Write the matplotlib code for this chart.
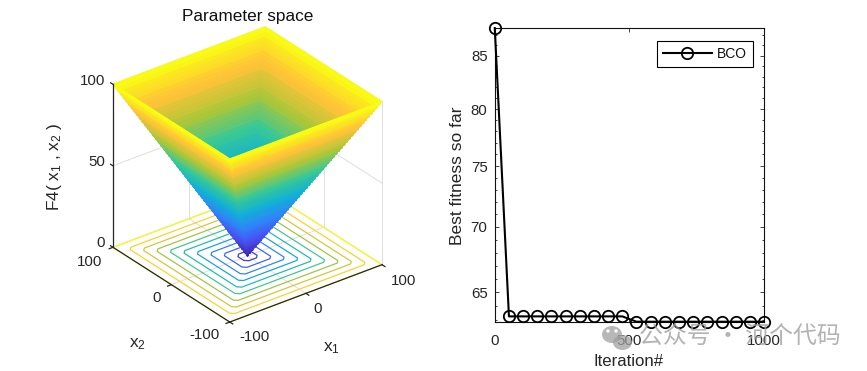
import numpy as np
import matplotlib
matplotlib.use('Agg')
import matplotlib.pyplot as plt
from matplotlib.colors import LinearSegmentedColormap
from matplotlib.patches import Ellipse
from matplotlib.ticker import FixedLocator, NullFormatter, FixedFormatter

plt.rcParams['font.family'] = ['Liberation Sans', 'Noto Sans CJK SC', 'DejaVu Sans']
plt.rcParams['mathtext.fontset'] = 'custom'
plt.rcParams['mathtext.rm'] = 'Liberation Sans'
plt.rcParams['mathtext.default'] = 'regular'

# ---- data -----------------------------------------------------------------
iterations = [1, 53.6, 106.2, 158.8, 211.4, 264, 316.6, 369.2, 421.7, 474.3,
              526.9, 579.5, 632.1, 684.7, 737.3, 789.9, 842.5, 895.1, 947.6, 1000]
best_fitness = [87.7, 63.25, 63.25, 63.25, 63.25, 63.25, 63.25, 63.25, 63.25, 63.25,
                62.87, 62.87, 62.87, 62.87, 62.87, 62.87, 62.87, 62.87, 62.87, 62.87]
contour_levels = [8.8, 18.8, 28.8, 38.8, 48.8, 58.8, 68.8, 78.8, 88.8]
rim_level = [99.9]
x_ticks_3d = [-100, 0, 100]
z_ticks_3d = [0, 50, 100]
y_major = [65, 70, 75, 80, 85]
y_minor = [63, 64, 66, 67, 68, 69, 71, 72, 73, 74, 76, 77, 78, 79, 81, 82, 83, 84, 86, 87]
x_ticks_2d = [0, 500, 1000]

# The surface is the function named on the axis, F4 = max(|x1|, |x2|),
# which the V-shaped square funnel in the reference shows.
x1 = np.arange(-100, 101, 2)
x2 = np.arange(-100, 101, 2)
X1, X2 = np.meshgrid(x1, x2)
F4 = np.maximum(np.abs(X1), np.abs(X2))
x1c = np.arange(-100, 101, 5)
C1, C2 = np.meshgrid(x1c, x1c)
F4c = np.maximum(np.abs(C1), np.abs(C2))

parula = LinearSegmentedColormap.from_list('parula', [
    (0.2422, 0.1504, 0.6603), (0.2810, 0.3228, 0.9579), (0.1786, 0.5289, 0.9682),
    (0.0689, 0.6948, 0.8394), (0.2161, 0.7843, 0.5923), (0.6720, 0.7793, 0.2227),
    (0.9970, 0.7659, 0.2199), (0.9769, 0.9839, 0.0805)], N=64)

W, H = 867, 371
INK = '#262626'
fig = plt.figure(figsize=(W / 100, H / 100), dpi=100, facecolor='white')


def ftxt(px, py, s, **kw):
    kw.setdefault('color', INK)
    kw.setdefault('ha', 'center')
    kw.setdefault('va', 'center')
    return fig.text(px / W, 1 - py / H, s, **kw)


# ---- left: 3-D surface ------------------------------------------------------
side = 400
ax3 = fig.add_axes([42.1 / W, -8.9 / H, side / W, side / H],
                   projection='3d', computed_zorder=False, proj_type='ortho')
ax3.view_init(elev=29.4, azim=-127.5)
ax3.set_box_aspect((1, 1, 0.975), zoom=0.80)
ax3.set_xlim(-100, 100, view_margin=0)
ax3.set_ylim(-100, 100, view_margin=0)
ax3.set_zlim(0, 100, view_margin=0)
ax3.set_xticks(x_ticks_3d)
ax3.set_yticks(x_ticks_3d)
ax3.set_zticks(z_ticks_3d)
ax3.set_axis_off()
ax3.patch.set_alpha(0)

GRID = '#dedede'
for v in x_ticks_3d:
    ax3.plot([v, v], [-100, 100], [0, 0], color=GRID, lw=0.7, zorder=1)
    ax3.plot([-100, 100], [v, v], [0, 0], color=GRID, lw=0.7, zorder=1)
    ax3.plot([v, v], [100, 100], [0, 100], color=GRID, lw=0.7, zorder=1)
    ax3.plot([100, 100], [v, v], [0, 100], color=GRID, lw=0.7, zorder=1)
for z in z_ticks_3d:
    ax3.plot([-100, 100], [100, 100], [z, z], color=GRID, lw=0.7, zorder=1)
    ax3.plot([100, 100], [-100, 100], [z, z], color=GRID, lw=0.7, zorder=1)

ax3.contour(C1, C2, F4c, levels=contour_levels, zdir='z', offset=0, cmap=parula,
            vmin=0, vmax=100, linewidths=0.9, zorder=2)
ax3.contour(X1, X2, F4, levels=rim_level, zdir='z', offset=0, cmap=parula,
            vmin=0, vmax=100, linewidths=0.9, zorder=2)
surf = ax3.plot_surface(X1, X2, F4, cmap=parula, vmin=0, vmax=100, rstride=1, cstride=1,
                        shade=False, linewidth=0.9, antialiased=True, zorder=3)
surf.set_edgecolor('face')

ax3.plot([-100, -100], [100, 100], [0, 100], color=INK, lw=0.9, zorder=4)
ax3.plot([-100, 100], [-100, -100], [0, 0], color=INK, lw=0.9, zorder=4)
ax3.plot([-100, -100], [-100, 100], [0, 0], color=INK, lw=0.9, zorder=4)
for v in x_ticks_3d:
    ax3.plot([v, v], [-100, -105], [0, 0], color=INK, lw=0.9, zorder=4)
    ax3.plot([-100, -105], [v, v], [0, 0], color=INK, lw=0.9, zorder=4)
for z in z_ticks_3d:
    ax3.plot([-100, -100], [100, 104], [z, z], color=INK, lw=0.9, zorder=4)

TICK = 10.8
ftxt(248, 16, 'Parameter space', fontsize=12.4, color='#111111')
ftxt(105, 81, '100', fontsize=TICK, ha='right')
ftxt(105, 162, '50', fontsize=TICK, ha='right')
ftxt(105, 243, '0', fontsize=TICK, ha='right')
ftxt(90, 262, '100', fontsize=TICK)
ftxt(157, 298, '0', fontsize=TICK)
ftxt(205, 335, '-100', fontsize=TICK)
ftxt(254, 337, '-100', fontsize=TICK)
ftxt(318, 309, '0', fontsize=TICK)
ftxt(404, 281, '100', fontsize=TICK)
ftxt(137, 344, 'x$_2$', fontsize=12.4)
ftxt(331, 348, 'x$_1$', fontsize=12.4)
ftxt(55, 167, 'F4( x$_1$ , x$_2$ )', fontsize=12.4, rotation=90)

# ---- right: convergence curve ----------------------------------------------
ax = fig.add_axes([494.5 / W, 1 - 321.7 / H, (764 - 494.5) / W, (321.7 - 28) / H])
ax.plot(iterations, best_fitness, '-o', color='black', lw=1.5, ms=8.2, mfc='none',
        mew=1.3, clip_on=False, zorder=5, label='BCO')
ax.set_yscale('log')
ax.set_xlim(0, 1000)
ax.set_ylim(62.87, 87.71)
ax.xaxis.set_major_locator(FixedLocator(x_ticks_2d))
ax.xaxis.set_major_formatter(FixedFormatter([str(t) for t in x_ticks_2d]))
ax.yaxis.set_major_locator(FixedLocator(y_major))
ax.yaxis.set_major_formatter(FixedFormatter([str(t) for t in y_major]))
ax.yaxis.set_minor_locator(FixedLocator(y_minor))
ax.yaxis.set_minor_formatter(NullFormatter())
ax.xaxis.set_minor_locator(FixedLocator([]))
ax.tick_params(which='major', direction='in', length=3, width=0.6, top=True, right=True,
               labelsize=TICK, labelcolor=INK, color=INK, pad=5)
ax.tick_params(which='minor', direction='in', length=1.6, width=0.6, top=False, right=True,
               left=True, color=INK)
for s in ax.spines.values():
    s.set_linewidth(0.8)
    s.set_color('#111111')
ax.tick_params(axis='x', pad=9)
ax.set_facecolor('white')

ftxt(457, 176, 'Best fitness so far', fontsize=12.5, rotation=90)
ftxt(629, 361, 'Iteration#', fontsize=12.1)

leg = ax.legend(loc='upper left', bbox_to_anchor=((657 - 494.5) / 269.5, 1 - (41 - 28) / 293.7),
                fontsize=10, fancybox=False, framealpha=1, edgecolor='black',
                borderaxespad=0, borderpad=0.42, handlelength=3.55, handletextpad=0.35)
leg.get_frame().set_linewidth(0.8)
for t in leg.get_texts():
    t.set_color('#111111')

# ---- watermark --------------------------------------------------------------
WM = '#a0a0a0'
for cx, cy, rx, ry in [(612, 334.5, 10, 8.5), (622.5, 342.5, 9.5, 7.5)]:
    fig.add_artist(Ellipse((cx / W, 1 - cy / H), 2 * rx / W, 2 * ry / H, color=WM,
                           alpha=0.75, lw=0, transform=fig.transFigure, zorder=20))
for cx, cy in [(608, 331), (616, 331)]:
    fig.add_artist(Ellipse((cx / W, 1 - cy / H), 3.4 / W, 3.4 / H, color='white',
                           lw=0, transform=fig.transFigure, zorder=21))
ftxt(740, 336, '公众号 · 河个代码', fontsize=17.2, color=WM, alpha=0.8, zorder=20,
     family=['Noto Sans CJK SC', 'DejaVu Sans'])

fig.savefig('out.png', dpi=100)
